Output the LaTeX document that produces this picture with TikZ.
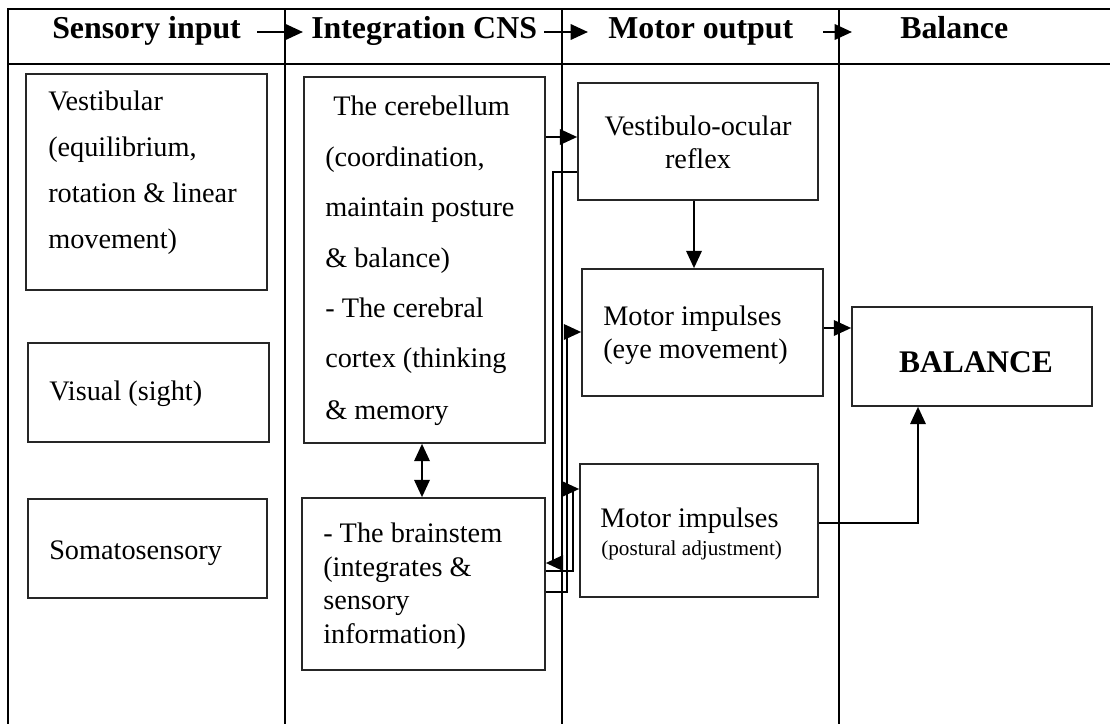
\documentclass[tikz,border=0pt]{standalone}
\usepackage{fontspec}
\setmainfont{Liberation Serif}
\usetikzlibrary{arrows.meta,fit}

\begin{document}
\begin{tikzpicture}[x=0.75pt,y=-0.75pt,
  tbl/.style={line width=1.9pt},
  box/.style={draw=black!85, line width=1.2pt, inner sep=0pt},
  tip/.tip={Triangle[length=13pt,width=11.5pt]},
  conn/.style={line width=1.8pt, -tip},
  dconn/.style={line width=1.8pt, tip-tip},
  txt/.style={inner sep=0pt, anchor=base west, font=\fontsize{21.2}{25}\selectfont},
  ctxt/.style={inner sep=0pt, anchor=base, font=\fontsize{21.2}{25}\selectfont},
  stxt/.style={inner sep=0pt, anchor=base west, font=\fontsize{15.9}{19}\selectfont},
  hd/.style={inner sep=0pt, anchor=base west, font=\bfseries\fontsize{23.9}{28}\selectfont}]
\useasboundingbox (0,0) rectangle (1110,724);

% table frame
\draw[tbl] (1110,9) -- (8,9) -- (8,724);
\draw[tbl] (8,64) -- (1110,64);
\draw[tbl] (285,9) -- (285,724);
\draw[tbl] (562,9) -- (562,724);
\draw[tbl] (839,9) -- (839,724);

% column headings
\node[hd] (h1) at (52,39) {Sensory input};
\node[hd] (h2) at (311,39) {Integration CNS};
\node[hd] (h3) at (608,39) {Motor output};
\node[hd] (h4) at (900,39) {Balance};
\coordinate (ha1) at (257,32); \coordinate (hb1) at (303,32);
\coordinate (ha2) at (544,32); \coordinate (hb2) at (588,32);
\coordinate (ha3) at (823,32); \coordinate (hb3) at (852,32);
\draw[conn] (ha1) -- (hb1);
\draw[conn] (ha2) -- (hb2);
\draw[conn] (ha3) -- (hb3);

% sensory input
\node[box, fit={(26,74) (267,290)}] (vest) {};
\node[txt] (v1) at (48,110) {Vestibular};
\node[txt] (v2) at (48,156) {(equilibrium,};
\node[txt] (v3) at (48,202) {rotation \& linear};
\node[txt] (v4) at (48,248) {movement)};
\node[box, fit={(28,343) (269,442)}] (vis) {};
\node[txt] (vt) at (49,400) {Visual (sight)};
\node[box, fit={(28,499) (267,598)}] (som) {};
\node[txt] (st) at (49,559) {Somatosensory};

% integration CNS
\node[box, fit={(304,77) (545,443)}] (cer) {};
\node[txt] (c1) at (333,115) {The cerebellum};
\node[txt] (c2) at (325,166) {(coordination,};
\node[txt] (c3) at (325,216) {maintain posture};
\node[txt] (c4) at (325,267) {\& balance)};
\node[txt] (c5) at (325,317) {- The cerebral};
\node[txt] (c6) at (325,367) {cortex (thinking};
\node[txt] (c7) at (325,419) {\& memory};
\node[box, fit={(302,498) (545,670)}] (bs) {};
\node[txt] (b1) at (323,542) {- The brainstem};
\node[txt] (b2) at (323,576) {(integrates \&};
\node[txt] (b3) at (323,609) {sensory};
\node[txt] (b4) at (323,643) {information)};

% motor output
\node[box, fit={(578,83) (818,200)}] (vor) {};
\node[ctxt] (r1) at (698,135) {Vestibulo-ocular};
\node[ctxt] (r2) at (698,168) {reflex};
\node[box, fit={(582,269) (823,396)}] (eye) {};
\node[txt] (e1) at (603,325) {Motor impulses};
\node[txt] (e2) at (603,358) {(eye movement)};
\node[box, fit={(580,464) (818,597)}] (pos) {};
\node[txt] (p1) at (600,527) {Motor impulses};
\node[stxt] (p2) at (601,555) {(postural adjustment)};

% balance
\node[box, fit={(852,307) (1092,406)}] (bal) {};
\node[inner sep=0pt, anchor=base, font=\bfseries\fontsize{23.6}{28}\selectfont] (bt) at (976,372) {BALANCE};

% connectors
\coordinate (ka) at (553,172);
\coordinate (kb) at (553,563);
\coordinate (kc) at (573,571);
\coordinate (kd) at (573,489);
\coordinate (ke) at (567,592);
\coordinate (kf) at (567,332);
\coordinate (kg) at (918,523);

\draw[conn] (cer.east |- 0,137) -- (vor.west |- 0,137);
\draw[conn] (vor.west |- ka) -- (ka) -- (kb) -- (bs.east |- kb);
\draw[conn] (bs.east |- kc) -- (kc) -- (kd) -- (pos.west |- kd);
\draw[conn] (bs.east |- ke) -- (ke) -- (kf) -- (eye.west |- kf);
\draw[dconn] (cer.south -| 422,0) -- (bs.north -| 422,0);
\draw[conn] (vor.south -| 694,0) -- (eye.north -| 694,0);
\draw[conn] (eye.east |- 0,328) -- (bal.west |- 0,328);
\draw[conn] (pos.east |- kg) -- (kg) -- (bal.south -| kg);
\end{tikzpicture}
\end{document}
